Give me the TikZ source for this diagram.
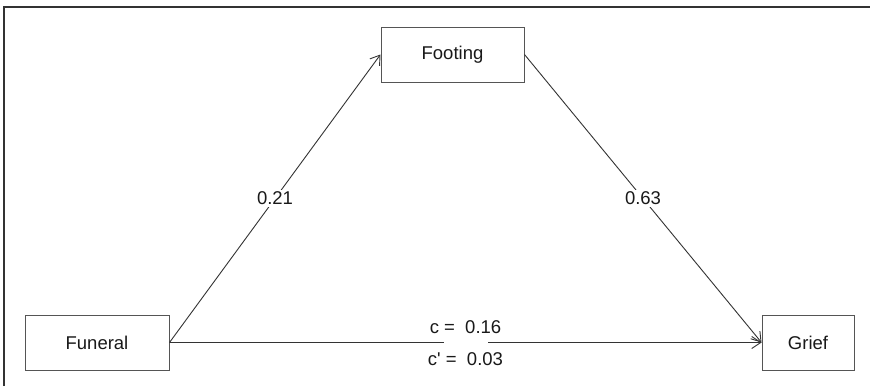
\documentclass[tikz,border=0pt]{standalone}
\usepackage{fontspec}
\setmainfont{Liberation Sans}
\usetikzlibrary{arrows.meta}
\definecolor{boxgray}{HTML}{555555}
\definecolor{linegray}{HTML}{333333}
\begin{document}
\begin{tikzpicture}[x=1pt,y=-1pt,
  varbox/.style={draw=boxgray, line width=1pt, minimum height=55pt, inner sep=0pt, font=\fontsize{18.5}{20}\selectfont, text=black!90},
  path/.style={draw=linegray, line width=0.9pt, -{Straight Barb[length=9pt,width=12pt,line width=0.9pt]}},
  coef/.style={fill=white, inner sep=1.5pt, font=\fontsize{18.5}{20}\selectfont, text=black!90},
  coeftext/.style={inner sep=0pt, font=\fontsize{18.5}{20}\selectfont, text=black!90}]
\useasboundingbox (0,0) rectangle (870,386);
\fill[white] (0,0) rectangle (870,386);
% partial frame (top and left edges)
\coordinate (frBL) at (4,386);
\coordinate (frTL) at (4,7);
\coordinate (frTR) at (870,7);
\draw[linegray, line width=1.5pt] (frBL) -- (frTL) -- (frTR);
% variables
\node[varbox, minimum width=143pt] (foot) at (452.5,54.5) {Footing};
\node[varbox, minimum width=144pt] (fun) at (97,342.5) {Funeral};
\node[varbox, minimum width=92pt] (grf) at (808,342.5) {Grief};
% paths
\draw[path] (fun.east) -- node[coef] (a) {0.21} (foot.west);
\draw[path] (foot.east) -- node[coef] (b) {0.63} (grf.west);
\draw[path] (fun.east) -- node[fill=white, inner sep=0pt, minimum width=44pt, minimum height=5pt] (gap) {} (grf.west);
\node[coeftext] (c) at ([yshift=15.5pt]gap.center) {c =\ \ 0.16};
\node[coeftext] (cp) at ([yshift=-16.5pt]gap.center) {c\textquotesingle\ =\ \ 0.03};
\end{tikzpicture}
\end{document}
